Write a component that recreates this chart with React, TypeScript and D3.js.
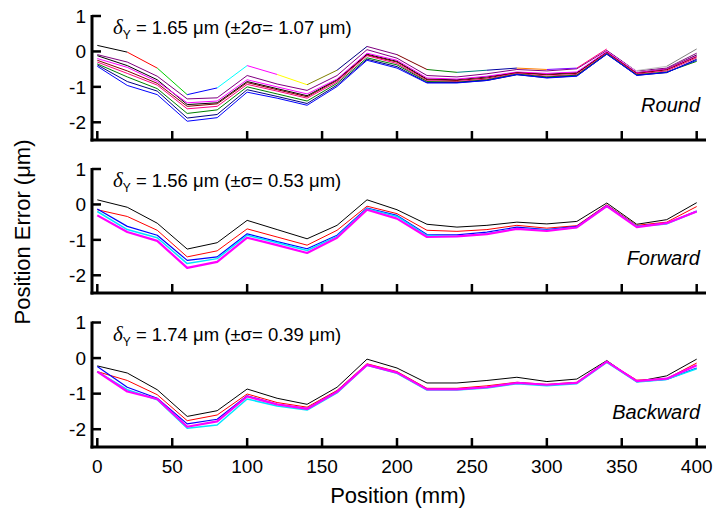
import React from "react";
import * as d3 from "d3";

const positions = [0, 20, 40, 60, 80, 100, 120, 140, 160, 180, 200, 220, 240, 260, 280, 300, 320, 340, 360, 380, 400];
const xTicks = [0, 50, 100, 150, 200, 250, 300, 350, 400];
const yTicks = [1, 0, -1, -2];

// Round panel series
const roundTop = [0.17, -0.02, -0.47, -1.22, -1.03, -0.4, -0.65, -0.94, -0.53, 0.14, -0.09, -0.51, -0.59, -0.53, -0.47, -0.51, -0.47, 0.07, -0.54, -0.42, 0.07];
const roundPurple = [-0.09, -0.3, -0.7, -1.34, -1.31, -0.68, -0.92, -1.1, -0.68, 0.05, -0.19, -0.68, -0.72, -0.63, -0.51, -0.55, -0.49, 0.03, -0.55, -0.47, -0.05];
const roundBlack = [-0.12, -0.4, -0.8, -1.5, -1.45, -0.85, -1.05, -1.25, -0.8, -0.08, -0.28, -0.78, -0.8, -0.72, -0.6, -0.64, -0.6, -0.02, -0.6, -0.5, -0.1];
const roundMagenta = [-0.2, -0.45, -0.85, -1.45, -1.4, -0.8, -1.0, -1.2, -0.78, -0.05, -0.25, -0.75, -0.78, -0.7, -0.58, -0.62, -0.58, 0.0, -0.6, -0.5, -0.12];
const roundWine = [-0.25, -0.55, -0.9, -1.55, -1.48, -0.88, -1.08, -1.28, -0.82, -0.1, -0.3, -0.8, -0.82, -0.75, -0.6, -0.66, -0.62, -0.03, -0.62, -0.52, -0.15];
const roundPink = [-0.3, -0.62, -0.95, -1.62, -1.55, -0.93, -1.12, -1.32, -0.86, -0.12, -0.34, -0.83, -0.85, -0.78, -0.62, -0.7, -0.65, -0.04, -0.64, -0.55, -0.18];
const roundGreen = [-0.35, -0.72, -1.05, -1.75, -1.65, -1.0, -1.2, -1.4, -0.9, -0.18, -0.38, -0.85, -0.87, -0.8, -0.64, -0.72, -0.67, -0.06, -0.66, -0.58, -0.28];
const roundNavy = [-0.38, -0.85, -1.12, -1.88, -1.78, -1.08, -1.27, -1.47, -0.95, -0.22, -0.43, -0.88, -0.88, -0.82, -0.66, -0.74, -0.69, -0.08, -0.67, -0.6, -0.22];
const roundBlue = [-0.42, -0.96, -1.22, -1.97, -1.87, -1.15, -1.32, -1.52, -0.99, -0.25, -0.47, -0.89, -0.89, -0.82, -0.65, -0.75, -0.7, -0.07, -0.68, -0.59, -0.25];

// Forward panel series
const fwdBlack = [0.13, -0.08, -0.53, -1.26, -1.08, -0.45, -0.71, -0.97, -0.59, 0.13, -0.15, -0.56, -0.64, -0.59, -0.5, -0.55, -0.48, 0.04, -0.56, -0.43, 0.05];
const fwdRed = [-0.15, -0.34, -0.73, -1.48, -1.31, -0.69, -0.92, -1.15, -0.73, -0.05, -0.26, -0.73, -0.76, -0.71, -0.59, -0.67, -0.6, -0.01, -0.59, -0.5, -0.06];
const fwdBlue = [-0.13, -0.62, -0.87, -1.58, -1.48, -0.83, -1.05, -1.25, -0.87, -0.1, -0.31, -0.85, -0.86, -0.78, -0.64, -0.71, -0.62, -0.03, -0.62, -0.53, -0.19];
const fwdCyan = [-0.2, -0.71, -0.94, -1.67, -1.53, -0.87, -1.08, -1.3, -0.9, -0.12, -0.34, -0.88, -0.9, -0.82, -0.68, -0.73, -0.65, -0.05, -0.62, -0.55, -0.2];
const fwdMagenta = [-0.31, -0.78, -1.03, -1.79, -1.62, -0.94, -1.15, -1.37, -0.94, -0.15, -0.4, -0.92, -0.9, -0.84, -0.69, -0.75, -0.65, -0.05, -0.64, -0.53, -0.2];

// Backward panel series
const bwdBlack = [-0.22, -0.42, -0.89, -1.64, -1.48, -0.87, -1.13, -1.3, -0.82, -0.03, -0.28, -0.7, -0.7, -0.63, -0.54, -0.66, -0.59, -0.07, -0.66, -0.5, -0.03];
const bwdRed = [-0.38, -0.63, -1.03, -1.76, -1.6, -1.01, -1.25, -1.38, -0.91, -0.16, -0.38, -0.85, -0.85, -0.78, -0.68, -0.74, -0.68, -0.1, -0.62, -0.58, -0.14];
const bwdBlue = [-0.24, -0.82, -1.13, -1.85, -1.72, -1.06, -1.3, -1.42, -0.94, -0.19, -0.41, -0.88, -0.88, -0.82, -0.7, -0.76, -0.7, -0.1, -0.66, -0.6, -0.28];
const bwdCyan = [-0.38, -0.89, -1.17, -1.97, -1.88, -1.15, -1.35, -1.46, -0.98, -0.2, -0.43, -0.9, -0.9, -0.84, -0.72, -0.78, -0.72, -0.12, -0.67, -0.6, -0.3];
const bwdMagenta = [-0.38, -0.94, -1.15, -1.93, -1.78, -1.08, -1.3, -1.43, -0.95, -0.19, -0.41, -0.88, -0.88, -0.82, -0.7, -0.75, -0.7, -0.1, -0.65, -0.58, -0.2];

const segmentColors = ["#000000", "#ff0000", "#00cc00", "#0000ff", "#00ffff", "#ff00ff", "#ffff00", "#808000", "#000080", "#800080", "#800000", "#008000", "#008080", "#0000a0", "#ff8000", "#8000ff", "#ff0080", "#ffffff", "#c0c0c0", "#808080"];

type Series = { values: number[]; color: string; width: number };

const panels = [
  {
    top: 16, bottom: 140,
    annValue: "1.65", annSigma: "±2σ= 1.07", label: "Round",
    series: [
      { values: roundPurple, color: "#800080", width: 1 },
      { values: roundBlack, color: "#000000", width: 1 },
      { values: roundMagenta, color: "#ff00ff", width: 1 },
      { values: roundWine, color: "#800000", width: 1 },
      { values: roundPink, color: "#ff0080", width: 1 },
      { values: roundGreen, color: "#008000", width: 1 },
      { values: roundNavy, color: "#000080", width: 1 },
      { values: roundBlue, color: "#0000ff", width: 1 },
    ] as Series[],
    segmented: roundTop,
  },
  {
    top: 169, bottom: 293,
    annValue: "1.56", annSigma: "±σ= 0.53", label: "Forward",
    series: [
      { values: fwdBlack, color: "#000000", width: 1 },
      { values: fwdRed, color: "#ff0000", width: 1 },
      { values: fwdBlue, color: "#0000ff", width: 1.2 },
      { values: fwdCyan, color: "#00e5ff", width: 1.5 },
      { values: fwdMagenta, color: "#ff00ff", width: 2.2 },
    ] as Series[],
    segmented: null as number[] | null,
  },
  {
    top: 322.5, bottom: 447,
    annValue: "1.74", annSigma: "±σ= 0.39", label: "Backward",
    series: [
      { values: bwdBlack, color: "#000000", width: 1 },
      { values: bwdRed, color: "#ff0000", width: 1 },
      { values: bwdBlue, color: "#0000ff", width: 1.2 },
      { values: bwdCyan, color: "#00e5ff", width: 1.5 },
      { values: bwdMagenta, color: "#ff00ff", width: 2.2 },
    ] as Series[],
    segmented: null as number[] | null,
  },
];

const FONT = "'Liberation Sans', Arial, sans-serif";

export default function App() {
  const x = d3.scaleLinear().domain([0, 400]).range([97.3, 696.7]);
  const axisX = 92;
  const axisRight = 706;

  return (
    <svg width={717} height={516} style={{ position: "absolute", left: 0, top: 0 }} fontFamily={FONT}>
      <rect width={717} height={516} fill="#fff" />
      {panels.map((p, pi) => {
        const y = d3.scaleLinear().domain([-2.5, 1]).range([p.bottom, p.top]);
        const line = d3.line<number>().x((_, i) => x(positions[i])).y((v) => y(v));
        return (
          <g key={pi}>
            {p.series.map((s, si) => (
              <path key={si} d={line(s.values) || ""} fill="none" stroke={s.color} strokeWidth={s.width} strokeLinejoin="round" />
            ))}
            {p.segmented &&
              p.segmented.slice(0, -1).map((v, i) => (
                <line key={"seg" + i}
                  x1={x(positions[i])} y1={y(v)}
                  x2={x(positions[i + 1])} y2={y(p.segmented![i + 1])}
                  stroke={segmentColors[i % segmentColors.length]} strokeWidth={1} />
              ))}
            {/* axes */}
            <line x1={axisX} x2={axisX} y1={p.top - 1} y2={p.bottom + 1.5} stroke="#000" strokeWidth={3} />
            <line x1={axisX - 1.5} x2={axisRight} y1={p.bottom} y2={p.bottom} stroke="#000" strokeWidth={3} />
            {yTicks.map((t) => (
              <g key={"yt" + t}>
                <line x1={axisX} x2={axisX + 9} y1={y(t)} y2={y(t)} stroke="#000" strokeWidth={2.5} />
                <text x={86} y={y(t)} dy="0.36em" textAnchor="end" fontSize={19}>{t < 0 ? "-" + Math.abs(t) : String(t)}</text>
              </g>
            ))}
            {xTicks.map((t) => (
              <line key={"xt" + t} x1={x(t)} x2={x(t)} y1={p.bottom} y2={p.bottom - 9} stroke="#000" strokeWidth={2.5} />
            ))}
            {pi === panels.length - 1 &&
              xTicks.map((t) => (
                <text key={"xl" + t} x={x(t)} y={p.bottom + 26} textAnchor="middle" fontSize={19}>{t}</text>
              ))}
            {/* annotation */}
            <text x={113} y={p.top + 18} fontSize={18.5}>
              <tspan fontFamily="'Liberation Serif', serif" fontStyle="italic" fontSize={21}>δ</tspan>
              <tspan fontSize={12} dy={5}>Y</tspan>
              <tspan dy={-5}>{" = " + p.annValue + " μm (" + p.annSigma + " μm)"}</tspan>
            </text>
            <text x={700} y={p.bottom - 28} textAnchor="end" fontSize={20} fontStyle="italic">{p.label}</text>
          </g>
        );
      })}
      <text x={398} y={503} textAnchor="middle" fontSize={22}>Position (mm)</text>
      <text transform="translate(30,232) rotate(-90)" textAnchor="middle" fontSize={22}>Position Error (μm)</text>
    </svg>
  );
}
